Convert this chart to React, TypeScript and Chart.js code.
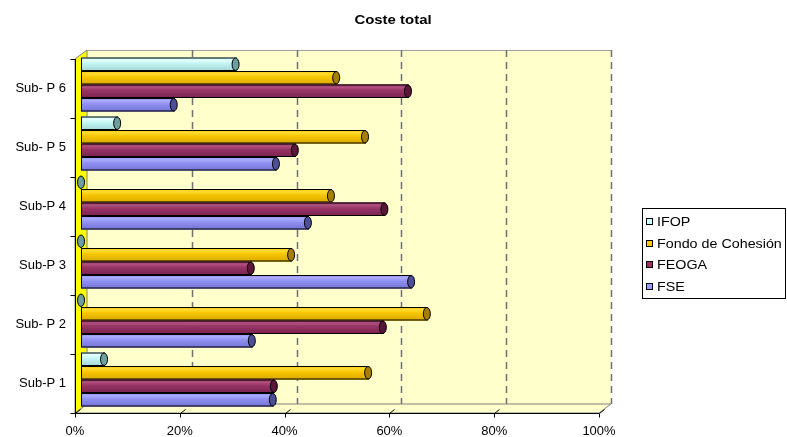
import React, { useEffect, useRef } from 'react';
import { Chart, registerables } from 'chart.js';

Chart.register(...registerables);

// ---- data ----
const categories = ['Sub- P 6', 'Sub- P 5', 'Sub-P 4', 'Sub-P 3', 'Sub- P 2', 'Sub-P 1'];
const seriesNames = ['IFOP', 'Fondo de Cohesión', 'FEOGA', 'FSE'];
const ifopValues = [29.5, 6.9, 0, 0, 0, 4.4];
const fondoValues = [48.7, 54.2, 47.7, 40.1, 66.0, 54.8];
const feogaValues = [62.4, 40.8, 57.9, 32.4, 57.6, 36.8];
const fseValues = [17.7, 37.2, 43.3, 63.0, 32.6, 36.6];
const xTickValues = [0, 20, 40, 60, 80, 100];
const chartTitle = 'Coste total';

// ---- styles ----
const baseColors = ['#C4F4F4', '#F7C600', '#963464', '#9090F0'];
const lightColors = ['#E2FFFF', '#FFDB33', '#B0507F', '#ABABFF'];
const darkColors = ['#A2D6D6', '#D9A800', '#7A2250', '#7474D4'];
const capColors = ['#6E9E9E', '#A67F00', '#5A1638', '#4E4E98'];
const legendColors = ['#CCFFFF', '#FFCC00', '#993366', '#9999FF'];
const FONT = "'Liberation Sans', Arial, sans-serif";

const BX = 6, BY = -5, FX = -6, FY = 4;

const frame3d = {
  id: 'frame3d',
  beforeDatasetsDraw(chart: any) {
    const ctx = chart.ctx;
    const xs = chart.scales.x;
    const ys = chart.scales.y;
    const x0 = xs.getPixelForValue(0);
    const x1 = xs.getPixelForValue(100);
    const top = ys.top;
    const bottom = ys.bottom;
    ctx.save();
    // back wall
    ctx.fillStyle = '#FFFFCC';
    ctx.fillRect(x0 + BX, top + BY, x1 - x0, bottom - top);
    // floor
    ctx.beginPath();
    ctx.moveTo(x0 + FX, bottom + FY);
    ctx.lineTo(x0 + BX, bottom + BY);
    ctx.lineTo(x1 + BX, bottom + BY);
    ctx.lineTo(x1 + FX, bottom + FY);
    ctx.closePath();
    ctx.fillStyle = '#FFFFCC';
    ctx.fill();
    ctx.strokeStyle = '#808080';
    ctx.lineWidth = 1;
    ctx.stroke();
    // top border of back wall
    ctx.beginPath();
    ctx.moveTo(x0 + BX, top + BY + 0.5);
    ctx.lineTo(x1 + BX, top + BY + 0.5);
    ctx.strokeStyle = '#A0A0A0';
    ctx.stroke();
    // dashed gridlines on back wall
    ctx.setLineDash([7, 5]);
    ctx.strokeStyle = '#707070';
    ctx.lineWidth = 1.5;
    xs.ticks.forEach((t: any) => {
      if (t.value === 0) return;
      const px = Math.round(xs.getPixelForValue(t.value) + BX) + 0.5;
      ctx.beginPath();
      ctx.moveTo(px, top + BY);
      ctx.lineTo(px, bottom + BY);
      ctx.stroke();
    });
    ctx.setLineDash([]);
    // left wall
    ctx.beginPath();
    ctx.moveTo(x0 + FX, top + FY);
    ctx.lineTo(x0 + BX, top + BY);
    ctx.lineTo(x0 + BX, bottom + BY);
    ctx.lineTo(x0 + FX, bottom + FY);
    ctx.closePath();
    ctx.fillStyle = '#FFFF00';
    ctx.fill();
    ctx.strokeStyle = '#808080';
    ctx.lineWidth = 1;
    ctx.stroke();
    // front x axis line + ticks
    ctx.strokeStyle = '#000';
    ctx.lineWidth = 1;
    const ay = Math.round(bottom + FY) + 0.5;
    ctx.beginPath();
    ctx.moveTo(x0 + FX - 4, ay);
    ctx.lineTo(x1 + FX, ay);
    ctx.stroke();
    xs.ticks.forEach((t: any) => {
      const px = Math.round(xs.getPixelForValue(t.value) + FX) + 0.5;
      ctx.beginPath();
      ctx.moveTo(px, ay + 4);
      ctx.lineTo(px, ay);
      ctx.lineTo(px + 5, ay - 4);
      ctx.stroke();
    });
    // left axis line + category ticks
    const lx = Math.round(x0 + FX) + 0.5;
    ctx.beginPath();
    ctx.moveTo(lx, top + FY);
    ctx.lineTo(lx, bottom + FY);
    ctx.stroke();
    const n = categories.length;
    const band = (bottom - top) / n;
    for (let k = 0; k <= n; k++) {
      const py = Math.round(top + k * band + FY) + 0.5;
      ctx.beginPath();
      ctx.moveTo(lx - 5, py);
      ctx.lineTo(lx, py);
      ctx.stroke();
    }
    ctx.restore();
  },
};

const cylinders = {
  id: 'cylinders',
  afterDatasetsDraw(chart: any) {
    const ctx = chart.ctx;
    ctx.save();
    chart.data.datasets.forEach((_ds: any, di: number) => {
      const meta = chart.getDatasetMeta(di);
      meta.data.forEach((el: any) => {
        const p = el.getProps(['x', 'y', 'base', 'height'], true);
        const h = p.height;
        const t = p.y - h / 2;
        const left = Math.min(p.x, p.base);
        const right = Math.max(p.x, p.base);
        const g = ctx.createLinearGradient(0, t, 0, t + h);
        g.addColorStop(0, baseColors[di]);
        g.addColorStop(0.2, lightColors[di]);
        g.addColorStop(0.45, baseColors[di]);
        g.addColorStop(1, darkColors[di]);
        if (right - left > 0.5) {
          ctx.fillStyle = g;
          ctx.fillRect(left, t, right - left, h);
          ctx.strokeStyle = '#000';
          ctx.lineWidth = 1;
          ctx.strokeRect(left + 0.5, t + 0.5, right - left, h - 1);
        }
        ctx.beginPath();
        ctx.ellipse(right, p.y, 3.5, h / 2 - 0.5, 0, 0, Math.PI * 2);
        ctx.fillStyle = capColors[di];
        ctx.fill();
        ctx.strokeStyle = '#000';
        ctx.stroke();
      });
    });
    ctx.restore();
  },
};

const titleLegend = {
  id: 'titleLegend',
  afterDraw(chart: any) {
    const ctx = chart.ctx;
    ctx.save();
    ctx.fillStyle = '#000';
    ctx.font = `bold 13px ${FONT}`;
    ctx.textAlign = 'center';
    ctx.textBaseline = 'middle';
    ctx.save();
    ctx.translate(393, 20);
    ctx.scale(1.15, 1);
    ctx.fillText(chartTitle, 0, 0);
    ctx.restore();
    // legend box
    ctx.fillStyle = '#FFFFFF';
    ctx.fillRect(642, 208, 143, 90);
    ctx.strokeStyle = '#000';
    ctx.lineWidth = 1;
    ctx.strokeRect(642.5, 208.5, 143, 90);
    ctx.font = `13px ${FONT}`;
    ctx.textAlign = 'left';
    seriesNames.forEach((name, i) => {
      const cy = Math.round(221 + i * 21.5);
      ctx.fillStyle = legendColors[i];
      ctx.fillRect(646, cy - 3, 7, 7);
      ctx.strokeStyle = '#000';
      ctx.strokeRect(646.5, cy - 2.5, 6, 6);
      ctx.fillStyle = '#000';
      ctx.save();
      ctx.translate(657, cy + 1);
      ctx.scale(1.1, 1);
      ctx.fillText(name, 0, 0);
      ctx.restore();
    });
    ctx.restore();
  },
};

export default function App() {
  const ref = useRef<HTMLCanvasElement | null>(null);
  useEffect(() => {
    if (!ref.current) return;
    Chart.defaults.font.family = FONT;
    const seriesValues = [ifopValues, fondoValues, feogaValues, fseValues];
    const chart = new Chart(ref.current, {
      type: 'bar',
      data: {
        labels: categories,
        datasets: seriesNames.map((name, i) => ({
          label: name,
          data: seriesValues[i],
          backgroundColor: baseColors[i],
          borderColor: '#000',
          borderWidth: 0,
          categoryPercentage: 0.915,
          barPercentage: 1,
        })),
      },
      options: {
        indexAxis: 'y',
        responsive: false,
        animation: false,
        layout: { padding: { left: 0, top: 55, right: 182, bottom: 0 } },
        plugins: {
          legend: { display: false },
          title: { display: false },
          tooltip: { enabled: false },
        },
        scales: {
          x: {
            min: 0,
            max: 100,
            afterBuildTicks: (scale: any) => {
              scale.ticks = xTickValues.map((v) => ({ value: v }));
            },
            afterFit: (scale: any) => {
              scale.height = 28;
            },
            grid: { display: false, drawTicks: false },
            border: { display: false },
            ticks: {
              callback: (v: any) => `${v}%`,
              color: '#000',
              font: { size: 13, family: FONT },
              padding: 15,
              labelOffset: FX,
              maxRotation: 0,
            },
          },
          y: {
            afterFit: (scale: any) => {
              scale.width = 81;
            },
            grid: { display: false, drawTicks: false },
            border: { display: false },
            ticks: {
              color: '#000',
              font: { size: 13, family: FONT },
              padding: 15,
              labelOffset: FY,
            },
          },
        },
      },
      plugins: [frame3d, cylinders, titleLegend],
    } as any);
    return () => chart.destroy();
  }, []);
  return (
    <div style={{ position: 'fixed', left: 0, top: 0, width: 787, height: 437, background: '#fff' }}>
      <canvas ref={ref} width={787} height={437} style={{ display: 'block' }} />
    </div>
  );
}
